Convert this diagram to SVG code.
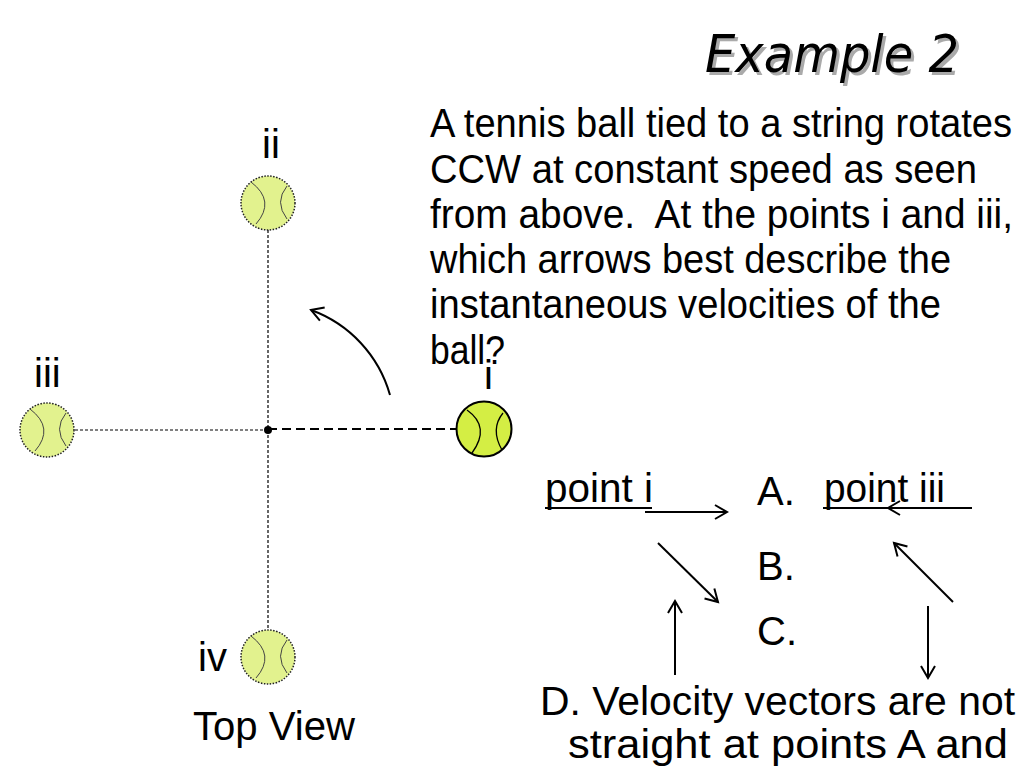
<svg xmlns="http://www.w3.org/2000/svg" width="1023" height="767" viewBox="0 0 1023 767">
<style>
.t{font-family:"Liberation Sans",Arial,sans-serif;font-size:40px;fill:#000}
.ttl{font-family:"DejaVu Sans",Verdana,sans-serif;font-style:italic;font-size:52px}
.thin{stroke:#000;stroke-width:1.2;stroke-dasharray:3 2;fill:none}
.thick{stroke:#000;stroke-width:2;stroke-dasharray:9 5;fill:none}
.seam{stroke:#444;stroke-width:1;fill:none}
.arr{stroke:#000;stroke-width:2;fill:none;marker-end:url(#ah)}
</style>
<defs>
<marker id="ah" markerUnits="userSpaceOnUse" markerWidth="20" markerHeight="20" viewBox="-14 -10 16 20" refX="0" refY="0" orient="auto">
<path d="M-12,-7 L0,0 L-12,7" stroke="#000" stroke-width="2" fill="none"/>
</marker>
<g id="seams">
<path class="seam" d="M-17,-21 Q8,-2 -12,21"/>
<path class="seam" d="M19,-17 Q6,-1 19,16"/>
</g>
</defs>
<rect width="1023" height="767" fill="#fff"/>
<g id="title">
<text class="ttl" x="708" y="75" fill="#aaa" textLength="254" lengthAdjust="spacingAndGlyphs">Example 2</text>
<text class="ttl" x="705" y="72" fill="#000" textLength="254" lengthAdjust="spacingAndGlyphs">Example 2</text>
</g>
<g id="question">
<text class="t" x="430" y="137" textLength="582" lengthAdjust="spacingAndGlyphs">A tennis ball tied to a string rotates</text>
<text class="t" x="430" y="183" textLength="547" lengthAdjust="spacingAndGlyphs">CCW at constant speed as seen</text>
<text class="t" x="430" y="228" textLength="583" lengthAdjust="spacingAndGlyphs" xml:space="preserve">from above.  At the points i and iii,</text>
<text class="t" x="430" y="273" textLength="521" lengthAdjust="spacingAndGlyphs">which arrows best describe the</text>
<text class="t" x="430" y="318" textLength="511" lengthAdjust="spacingAndGlyphs">instantaneous velocities of the</text>
<text class="t" x="430" y="364" textLength="75" lengthAdjust="spacingAndGlyphs">ball?</text>
</g>
<g id="connectors">
<line class="thin" x1="268" y1="230" x2="268" y2="630"/>
<line class="thin" x1="75" y1="430" x2="268" y2="430"/>
<line class="thick" x1="268" y1="429" x2="457" y2="429"/>
<path class="arr" d="M390,395 A127,127 0 0 0 311,310"/>
</g>
<g id="center"><circle cx="268" cy="430" r="4" fill="#000"/></g>
<g id="ball-ii">
<circle cx="268" cy="203" r="27" fill="#e2f28e" stroke="#222" stroke-width="1.5" stroke-dasharray="1.5 1.5"/>
<use href="#seams" transform="translate(268,203)"/>
<text class="t" x="262" y="158">ii</text>
</g>
<g id="ball-iii">
<circle cx="47" cy="430" r="27" fill="#e2f28e" stroke="#222" stroke-width="1.5" stroke-dasharray="1.5 1.5"/>
<use href="#seams" transform="translate(47,430)"/>
<text class="t" x="34" y="387">iii</text>
</g>
<g id="ball-i">
<circle cx="484" cy="429" r="27.5" fill="#d4ee44" stroke="#000" stroke-width="2"/>
<g transform="translate(484,429)">
<path d="M-17,-19 Q7,-2 -12,24" stroke="#000" stroke-width="1.3" fill="none"/>
<path d="M19,-16 Q6,0 18,21" stroke="#000" stroke-width="1.3" fill="none"/>
</g>
<text class="t" x="484" y="389">i</text>
</g>
<g id="ball-iv">
<circle cx="268" cy="657" r="27" fill="#e2f28e" stroke="#222" stroke-width="1.5" stroke-dasharray="1.5 1.5"/>
<use href="#seams" transform="translate(268,657)"/>
<text class="t" x="198" y="671">iv</text>
</g>
<g id="top-view"><text class="t" x="193" y="740" textLength="162" lengthAdjust="spacingAndGlyphs">Top View</text></g>
<g id="choices">
<text class="t" x="545" y="502" textLength="108" lengthAdjust="spacingAndGlyphs">point i</text>
<line x1="545" y1="508" x2="652" y2="508" stroke="#000" stroke-width="2"/>
<text class="t" x="824" y="502" textLength="121" lengthAdjust="spacingAndGlyphs">point iii</text>
<line x1="823" y1="508" x2="972" y2="508" stroke="#000" stroke-width="2"/>
<text class="t" x="757" y="505">A.</text>
<text class="t" x="757" y="580">B.</text>
<text class="t" x="757" y="645">C.</text>
<line class="arr" x1="645" y1="512" x2="727" y2="512"/>
<line class="arr" x1="972" y1="508" x2="888" y2="508"/>
<line class="arr" x1="658" y1="543" x2="718" y2="602"/>
<line class="arr" x1="953" y1="602" x2="894" y2="543"/>
<line class="arr" x1="675" y1="675" x2="675" y2="601"/>
<line class="arr" x1="928" y1="606" x2="928" y2="678"/>
<text class="t" x="540" y="715" textLength="475" lengthAdjust="spacingAndGlyphs">D. Velocity vectors are not</text>
<text class="t" x="568" y="758" textLength="440" lengthAdjust="spacingAndGlyphs">straight at points A and</text>
</g>
</svg>
